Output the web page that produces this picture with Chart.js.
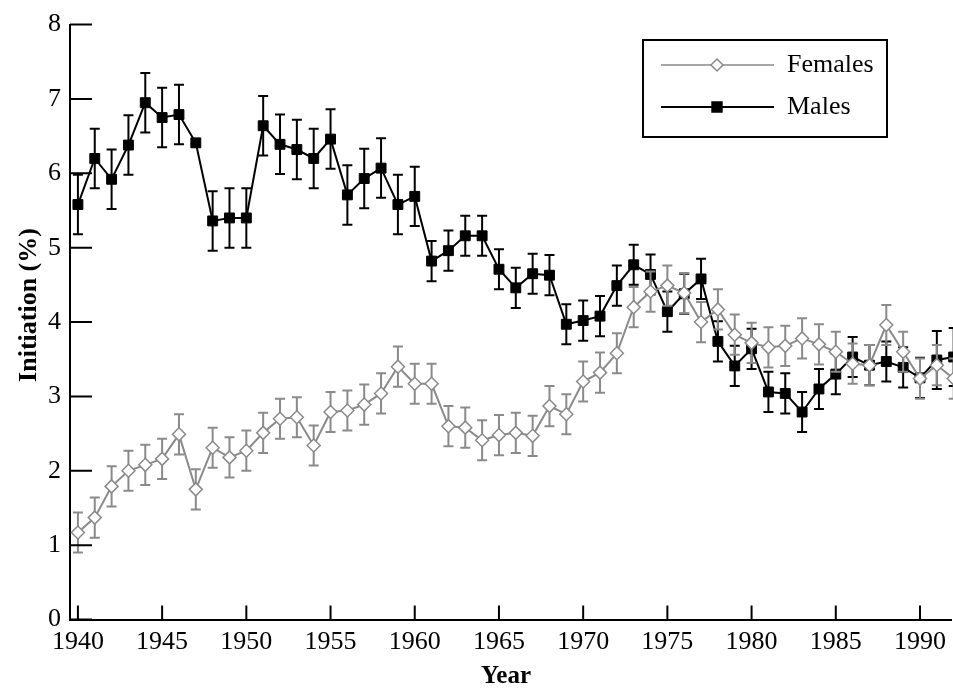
<!DOCTYPE html>
<html>
<head>
<meta charset="utf-8">
<script src="https://cdn.jsdelivr.net/npm/chart.js@4.4.1/dist/chart.umd.min.js"></script>
<style>
  body { margin: 0; background: #fff; }
  canvas { display: block; }
</style>
</head>
<body>
<canvas id="myChart" width="953" height="688"></canvas>
<script>
// years 1940..1992
var years = [];
for (var yr = 1940; yr <= 1992; yr++) years.push(yr);

var females = [1.17, 1.37, 1.79, 2.00, 2.08, 2.16, 2.49, 1.75, 2.31, 2.18,
               2.27, 2.51, 2.70, 2.72, 2.34, 2.79, 2.81, 2.89, 3.04, 3.40,
               3.17, 3.17, 2.60, 2.58, 2.41, 2.48, 2.51, 2.47, 2.87, 2.76,
               3.20, 3.32, 3.58, 4.20, 4.41, 4.49, 4.39, 4.00, 4.17, 3.83,
               3.72, 3.66, 3.68, 3.78, 3.70, 3.60, 3.44, 3.42, 3.96, 3.60,
               3.24, 3.42, 3.24];
var femalesErr = [0.27, 0.27, 0.27, 0.27, 0.27, 0.27, 0.27, 0.27, 0.27, 0.27,
                  0.27, 0.27, 0.27, 0.27, 0.27, 0.27, 0.27, 0.27, 0.27, 0.27,
                  0.27, 0.27, 0.27, 0.27, 0.27, 0.27, 0.27, 0.27, 0.27, 0.27,
                  0.27, 0.27, 0.27, 0.27, 0.27, 0.27, 0.27, 0.27, 0.27, 0.27,
                  0.27, 0.27, 0.27, 0.27, 0.27, 0.27, 0.27, 0.27, 0.27, 0.27,
                  0.27, 0.27, 0.27];

var males = [5.58, 6.20, 5.92, 6.38, 6.95, 6.75, 6.79, 6.41, 5.36, 5.40,
             5.40, 6.64, 6.39, 6.32, 6.20, 6.46, 5.71, 5.93, 6.07, 5.58,
             5.69, 4.82, 4.96, 5.16, 5.16, 4.71, 4.46, 4.65, 4.63, 3.97,
             4.02, 4.08, 4.49, 4.77, 4.64, 4.14, 4.38, 4.58, 3.74, 3.41,
             3.64, 3.06, 3.04, 2.79, 3.10, 3.30, 3.53, 3.42, 3.47, 3.39,
             3.25, 3.49, 3.53];
var malesErr = [0.40, 0.40, 0.40, 0.40, 0.40, 0.40, 0.40, 0, 0.40, 0.40,
                0.40, 0.40, 0.40, 0.40, 0.40, 0.40, 0.40, 0.40, 0.40, 0.40,
                0.40, 0.27, 0.27, 0.27, 0.27, 0.27, 0.27, 0.27, 0.27, 0.27,
                0.27, 0.27, 0.27, 0.27, 0.27, 0.27, 0.27, 0.27, 0.27, 0.27,
                0.27, 0.27, 0.27, 0.27, 0.27, 0.27, 0.27, 0.27, 0.27, 0.27,
                0.27, 0.39, 0.39];

var xTicks = [1940, 1945, 1950, 1955, 1960, 1965, 1970, 1975, 1980, 1985, 1990];
var yTicks = [0, 1, 2, 3, 4, 5, 6, 7, 8];

var GREY = '#8a8a8a';
var FONT = 'Liberation Serif';

function pts(vals) {
    return vals.map(function (v, i) { return { x: years[i], y: v }; });
}

// error bars drawn just before each dataset so markers sit on top
var errorBars = {
    id: 'errorBars',
    beforeDatasetDraw: function (chart, args) {
        var ds = chart.data.datasets[args.index];
        var xs = chart.scales.x, ys = chart.scales.y;
        var ctx = chart.ctx;
        ctx.save();
        ctx.strokeStyle = ds.borderColor;
        ctx.lineWidth = 2;
        ds.data.forEach(function (p, i) {
            var e = ds.errors[i];
            if (!e) return;
            var px = xs.getPixelForValue(p.x);
            var top = ys.getPixelForValue(p.y + e);
            var bot = ys.getPixelForValue(p.y - e);
            ctx.beginPath();
            ctx.moveTo(px, top); ctx.lineTo(px, bot);
            ctx.moveTo(px - 5, top); ctx.lineTo(px + 5, top);
            ctx.moveTo(px - 5, bot); ctx.lineTo(px + 5, bot);
            ctx.stroke();
        });
        ctx.restore();
    }
};

// inward ticks, axis titles and the framed legend
var decor = {
    id: 'decor',
    afterDraw: function (chart) {
        var ctx = chart.ctx, xs = chart.scales.x, ys = chart.scales.y;
        var a = chart.chartArea;
        ctx.save();
        ctx.strokeStyle = '#000';
        ctx.lineWidth = 2;
        ctx.beginPath();
        yTicks.forEach(function (t) {
            var py = ys.getPixelForValue(t);
            ctx.moveTo(a.left, py); ctx.lineTo(a.left + 22, py);
        });
        xTicks.forEach(function (t) {
            var px = xs.getPixelForValue(t);
            ctx.moveTo(px, a.bottom); ctx.lineTo(px, a.bottom - 14);
        });
        ctx.stroke();

        // axis titles
        ctx.fillStyle = '#000';
        ctx.font = 'bold 25px "' + FONT + '"';
        ctx.textAlign = 'center';
        ctx.textBaseline = 'alphabetic';
        ctx.fillText('Year', 506, 683);
        ctx.save();
        ctx.translate(36, 305);
        ctx.rotate(-Math.PI / 2);
        ctx.font = 'bold 26px "' + FONT + '"';
        ctx.fillText('Initiation (%)', 0, 0);
        ctx.restore();

        // legend
        var bx = 643, by = 40, bw = 244, bh = 97;
        ctx.fillStyle = '#fff';
        ctx.fillRect(bx, by, bw, bh);
        ctx.lineWidth = 2;
        ctx.strokeStyle = '#000';
        ctx.strokeRect(bx, by, bw, bh);
        var items = [
            { label: 'Females', color: GREY, style: 'rectRot', fill: '#fff', r: 6, y: 65, lw: 1.5 },
            { label: 'Males', color: '#000', style: 'rect', fill: '#000', r: 7, y: 107, lw: 2 }
        ];
        items.forEach(function (it) {
            ctx.strokeStyle = it.color;
            ctx.lineWidth = it.lw;
            ctx.beginPath();
            ctx.moveTo(661, it.y); ctx.lineTo(774, it.y);
            ctx.stroke();
            ctx.fillStyle = it.fill;
            ctx.lineWidth = 1.5;
            Chart.helpers.drawPoint(ctx, { pointStyle: it.style, radius: it.r, borderWidth: 1.5, rotation: 0 }, 717, it.y);
            ctx.fillStyle = '#000';
            ctx.font = '26px "' + FONT + '"';
            ctx.textBaseline = 'middle';
            ctx.textAlign = 'left';
            ctx.fillText(it.label, 787, it.y);
        });
        ctx.restore();
    }
};

var ctx = document.getElementById('myChart').getContext('2d');
var chart = new Chart(ctx, {
    type: 'line',
    data: {
        datasets: [{
            label: 'Females',
            data: pts(females),
            errors: femalesErr,
            borderColor: GREY,
            borderWidth: 2,
            pointStyle: 'rectRot',
            pointRadius: 6.5,
            pointBackgroundColor: '#fff',
            pointBorderColor: GREY,
            pointBorderWidth: 1.5,
            tension: 0,
            clip: false
        }, {
            label: 'Males',
            data: pts(males),
            errors: malesErr,
            borderColor: '#000',
            borderWidth: 2,
            pointStyle: 'rect',
            pointRadius: 7,
            pointBackgroundColor: '#000',
            pointBorderColor: '#000',
            pointBorderWidth: 1,
            tension: 0,
            clip: false
        }]
    },
    options: {
        responsive: false,
        animation: false,
        events: [],
        layout: { padding: { top: 20, right: 0, left: 0, bottom: 0 }, autoPadding: false },
        plugins: { legend: { display: false }, tooltip: { enabled: false } },
        scales: {
            x: {
                type: 'linear',
                min: 1939.53,
                max: 1991.85,
                afterFit: function (s) { s.height = 68.5; },
                grid: { display: false, drawTicks: false },
                border: { display: true, color: '#000', width: 2 },
                ticks: {
                    stepSize: 5, includeBounds: false, padding: 7, maxRotation: 0, autoSkip: false,
                    color: '#000', font: { family: FONT, size: 26 },
                    callback: function (v) { return String(v); }
                }
            },
            y: {
                min: 0,
                max: 8,
                afterFit: function (s) { s.width = 70; },
                grid: { display: false, drawTicks: false },
                border: { display: true, color: '#000', width: 2 },
                ticks: {
                    stepSize: 1, padding: 9, color: '#000',
                    font: { family: FONT, size: 26 }
                }
            }
        }
    },
    plugins: [errorBars, decor]
});
</script>
</body>
</html>
